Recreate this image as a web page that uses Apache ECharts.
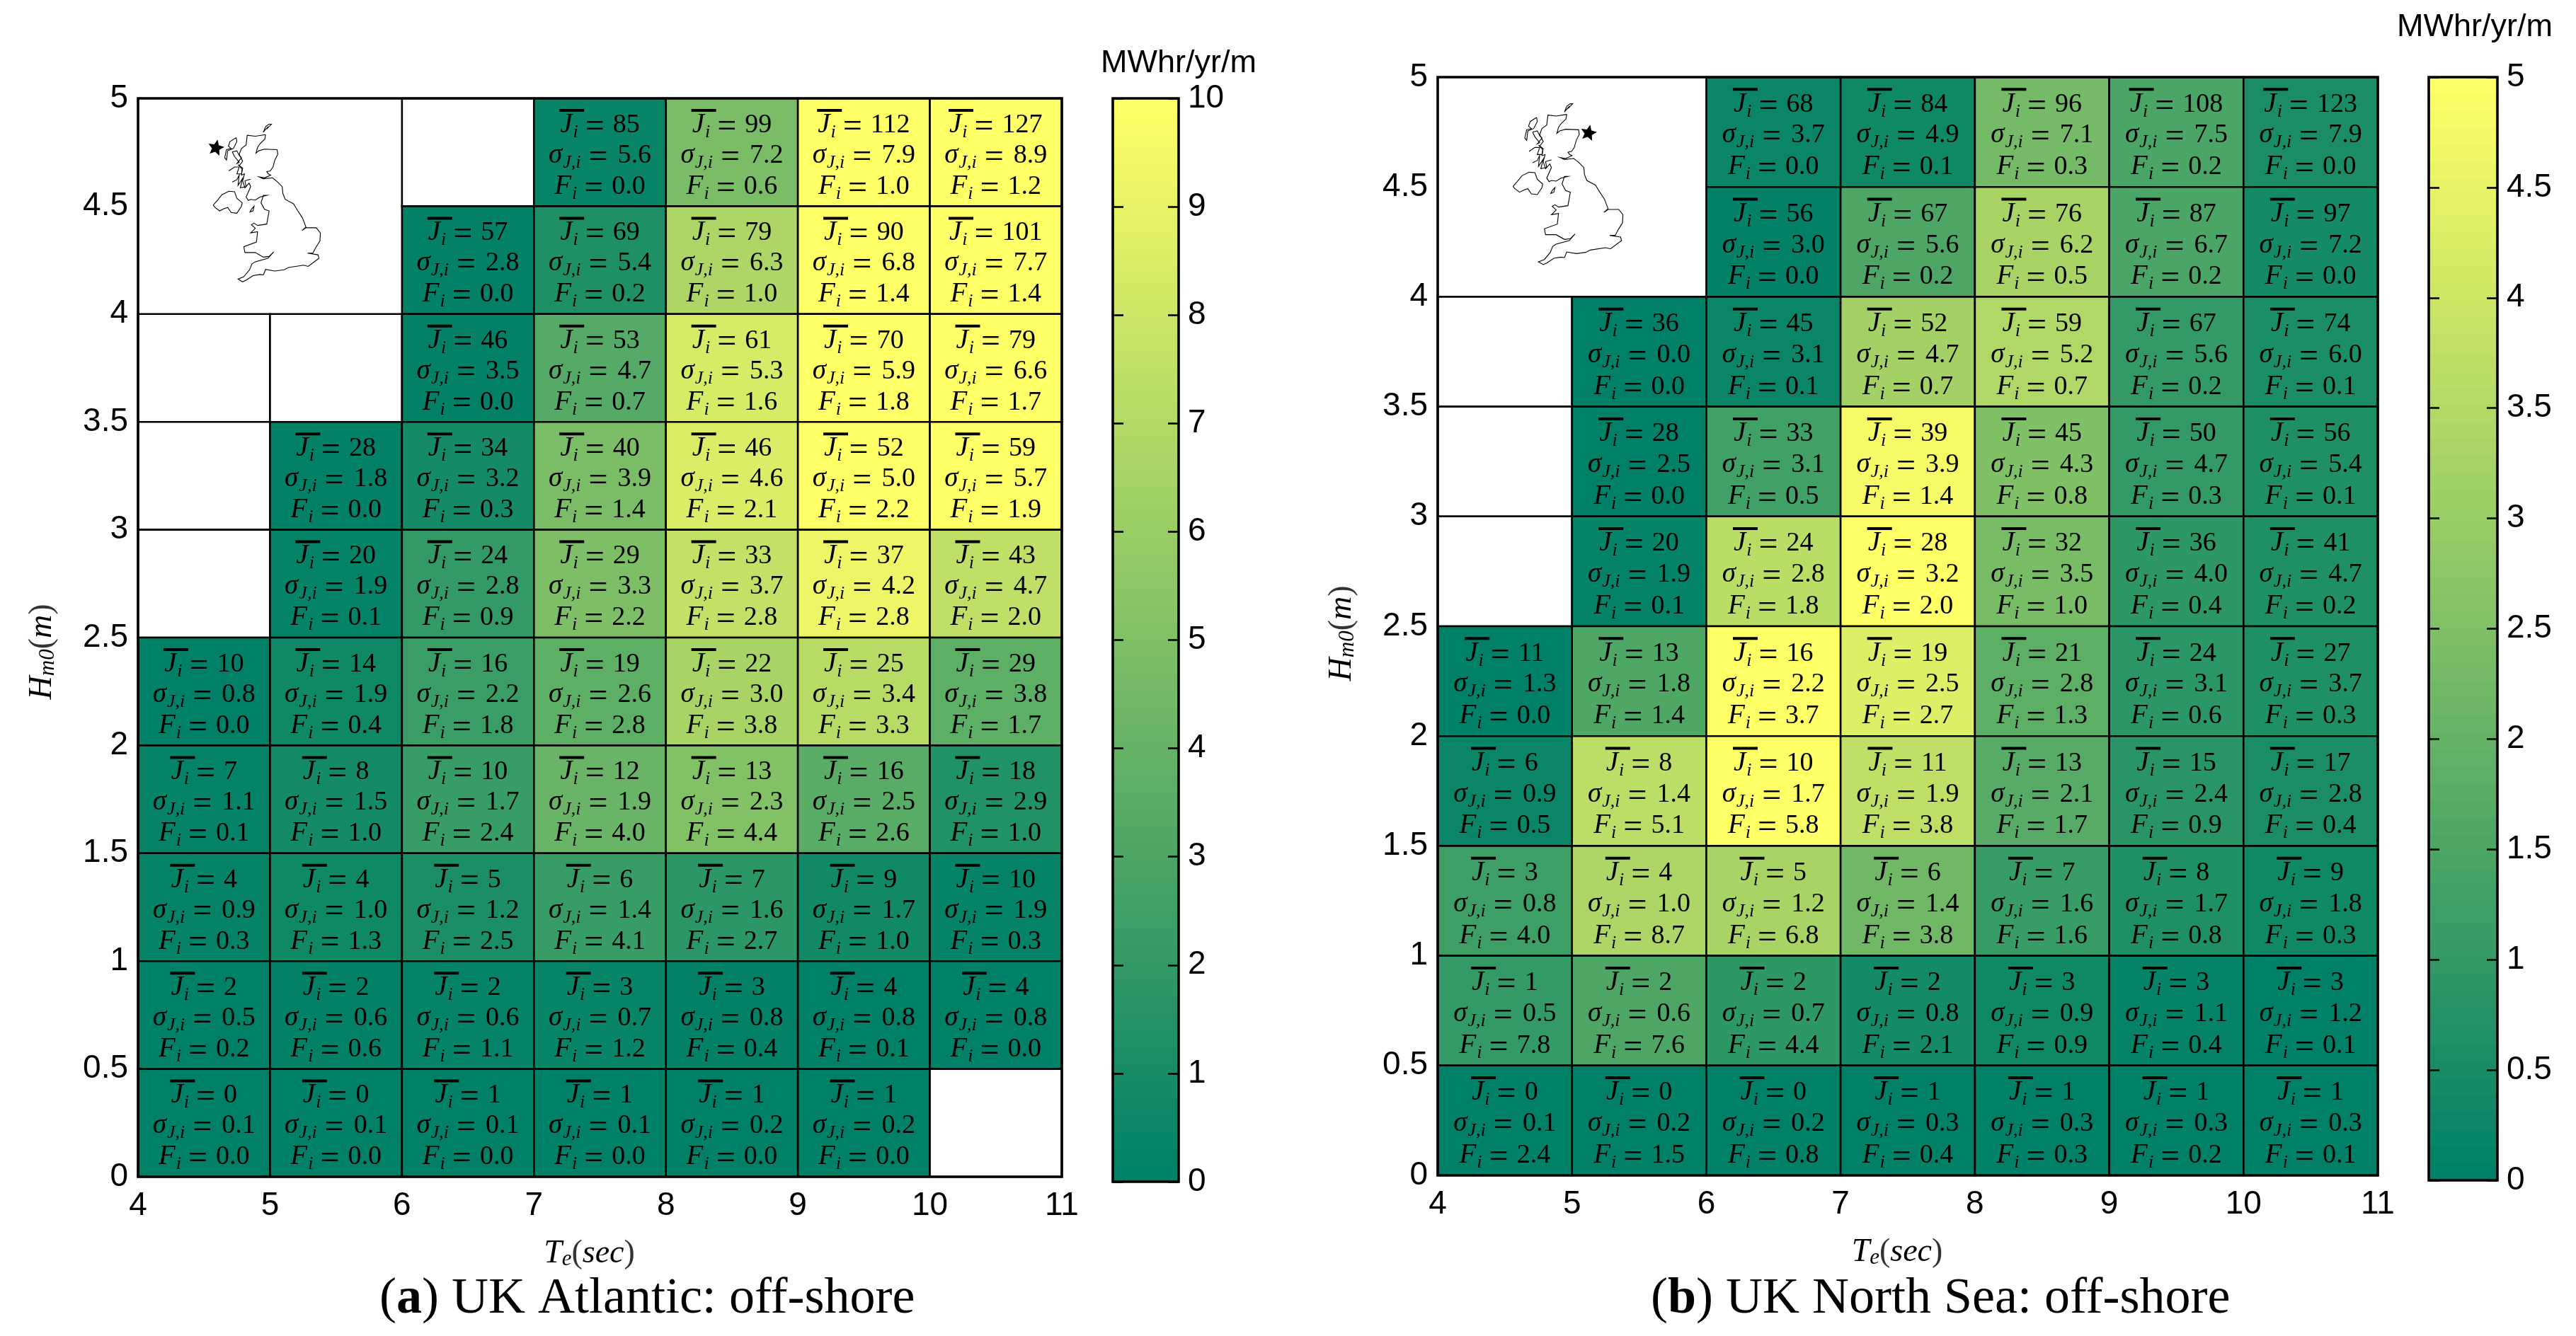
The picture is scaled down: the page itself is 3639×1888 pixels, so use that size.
<!DOCTYPE html>
<html><head><meta charset="utf-8">
<style>html,body{margin:0;padding:0;background:#fff}#c{width:3639px;height:1888px}</style>
<script src="https://cdn.jsdelivr.net/npm/echarts@6/dist/echarts.min.js"></script>
</head><body><div id="c"></div>
<script>
// x = Te bin lower edge, y = Hm0 bin lower edge. Rows run from the top row (4.5-5) to the bottom row (0-0.5).
var teBins = [4, 5, 6, 7, 8, 9, 10];
var hBins = [4.5, 4, 3.5, 3, 2.5, 2, 1.5, 1, 0.5, 0];
var xTickMin = 4, xTickMax = 11, yTickMin = 0, yTickMax = 5;

var atlanticJ = [
 [null,null,null,85,99,112,127],
 [null,null,57,69,79,90,101],
 [null,null,46,53,61,70,79],
 [null,28,34,40,46,52,59],
 [null,20,24,29,33,37,43],
 [10,14,16,19,22,25,29],
 [7,8,10,12,13,16,18],
 [4,4,5,6,7,9,10],
 [2,2,2,3,3,4,4],
 [0,0,1,1,1,1,null]];
var atlanticSigma = [
 [null,null,null,5.6,7.2,7.9,8.9],
 [null,null,2.8,5.4,6.3,6.8,7.7],
 [null,null,3.5,4.7,5.3,5.9,6.6],
 [null,1.8,3.2,3.9,4.6,5.0,5.7],
 [null,1.9,2.8,3.3,3.7,4.2,4.7],
 [0.8,1.9,2.2,2.6,3.0,3.4,3.8],
 [1.1,1.5,1.7,1.9,2.3,2.5,2.9],
 [0.9,1.0,1.2,1.4,1.6,1.7,1.9],
 [0.5,0.6,0.6,0.7,0.8,0.8,0.8],
 [0.1,0.1,0.1,0.1,0.2,0.2,null]];
var atlanticF = [
 [null,null,null,0.0,0.6,1.0,1.2],
 [null,null,0.0,0.2,1.0,1.4,1.4],
 [null,null,0.0,0.7,1.6,1.8,1.7],
 [null,0.0,0.3,1.4,2.1,2.2,1.9],
 [null,0.1,0.9,2.2,2.8,2.8,2.0],
 [0.0,0.4,1.8,2.8,3.8,3.3,1.7],
 [0.1,1.0,2.4,4.0,4.4,2.6,1.0],
 [0.3,1.3,2.5,4.1,2.7,1.0,0.3],
 [0.2,0.6,1.1,1.2,0.4,0.1,0.0],
 [0.0,0.0,0.0,0.0,0.0,0.0,null]];
// cell colour level on the 0-10 colour bar
var atlanticLevel = [
 [null,null,null,0.3,4.8,10,10],
 [null,null,0.1,1.2,6.8,10,10],
 [null,null,0.1,3.3,8.4,10,10],
 [null,0.1,0.8,4.8,8.6,10,10],
 [null,0.2,2,4.9,7.6,9.3,7.5],
 [0,0.6,2.3,3.7,6.6,7.2,3.7],
 [0.2,0.8,2.2,4.1,5.1,3.5,1.3],
 [0.2,0.6,1.1,2.2,1.7,0.7,0.2],
 [0,0.1,0.2,0.3,0.1,0,0],
 [0,0,0,0,0,0,null]];

var northSeaJ = [
 [null,null,68,84,96,108,123],
 [null,null,56,67,76,87,97],
 [null,36,45,52,59,67,74],
 [null,28,33,39,45,50,56],
 [null,20,24,28,32,36,41],
 [11,13,16,19,21,24,27],
 [6,8,10,11,13,15,17],
 [3,4,5,6,7,8,9],
 [1,2,2,2,3,3,3],
 [0,0,0,1,1,1,1]];
var northSeaSigma = [
 [null,null,3.7,4.9,7.1,7.5,7.9],
 [null,null,3.0,5.6,6.2,6.7,7.2],
 [null,0.0,3.1,4.7,5.2,5.6,6.0],
 [null,2.5,3.1,3.9,4.3,4.7,5.4],
 [null,1.9,2.8,3.2,3.5,4.0,4.7],
 [1.3,1.8,2.2,2.5,2.8,3.1,3.7],
 [0.9,1.4,1.7,1.9,2.1,2.4,2.8],
 [0.8,1.0,1.2,1.4,1.6,1.7,1.8],
 [0.5,0.6,0.7,0.8,0.9,1.1,1.2],
 [0.1,0.2,0.2,0.3,0.3,0.3,0.3]];
var northSeaF = [
 [null,null,0.0,0.1,0.3,0.2,0.0],
 [null,null,0.0,0.2,0.5,0.2,0.0],
 [null,0.0,0.1,0.7,0.7,0.2,0.1],
 [null,0.0,0.5,1.4,0.8,0.3,0.1],
 [null,0.1,1.8,2.0,1.0,0.4,0.2],
 [0.0,1.4,3.7,2.7,1.3,0.6,0.3],
 [0.5,5.1,5.8,3.8,1.7,0.9,0.4],
 [4.0,8.7,6.8,3.8,1.6,0.8,0.3],
 [7.8,7.6,4.4,2.1,0.9,0.4,0.1],
 [2.4,1.5,0.8,0.4,0.3,0.2,0.1]];
// cell colour level on the 0-5 colour bar
var northSeaLevel = [
 [null,null,0.2,0.3,2.3,1.45,0.5],
 [null,null,0.05,1.5,3.3,1.45,0.4],
 [null,0,0.2,3.2,3.45,1,0.55],
 [null,0,1.25,4.8,2.5,1,0.6],
 [null,0.1,3.65,5,2.35,0.9,0.6],
 [0,1.55,5,4.35,1.85,0.85,0.6],
 [0.2,3.7,5,3.75,1.7,0.8,0.5],
 [1.2,3.4,3.3,2.2,1.1,0.6,0.3],
 [1,1.5,0.9,0.4,0.3,0.1,0],
 [0,0,0,0,0,0,0]];

var atlanticBarTicks = {min:0, max:10, interval:1};
var northSeaBarTicks = {min:0, max:5, interval:0.5};
var barUnit = 'MWhr/yr/m';
var captionA = ['(', 'a', ')', ' UK Atlantic: off-shore'];
var captionB = ['(', 'b', ')', ' UK North Sea: off-shore'];

var LOW = '#008066', HIGH = '#ffff66';
var SERIF = '"Liberation Serif"', SANS = '"Liberation Sans"';

var measure = document.createElement('canvas').getContext('2d');
function textW(t, font){ measure.font = font; return measure.measureText(t).width; }
function tok(t, size, italic, base, x){
  return {type:'text', style:{text:t, x:x, y:base-0.27*size, fill:'#000', textAlign:'left', verticalAlign:'middle',
    font:(italic?'italic ':'')+size+'px '+SERIF}};
}
// lays a run of [text,size,italic,baselineDrop,gapBefore] tokens centred at cx
function line(cx, base, parts, out){
  var total = 0, i, p;
  for(i=0;i<parts.length;i++){ p=parts[i];
    p.w = textW(p[0], (p[2]?'italic ':'')+p[1]+'px '+SERIF); total += p.w + (p[4]||0); }
  var x = cx-total/2, startX = null;
  for(i=0;i<parts.length;i++){ p=parts[i]; x += (p[4]||0);
    if(startX===null) startX=x;
    out.push(tok(p[0],p[1],p[2],base+(p[3]||0),x)); x += p.w; }
  return startX;
}
function cellRenderer(maxLevel){
  return function(params, api){
    var x0=api.value(0), y0=api.value(1), lvl=api.value(2), J=api.value(3), s=api.value(4), F=api.value(5);
    var tl=api.coord([x0,y0+0.5]), br=api.coord([x0+1,y0]);
    var w=br[0]-tl[0], h=br[1]-tl[1], cx=tl[0]+w/2, top=tl[1];
    var empty=isNaN(J);
    var fill=empty?'#fff':echarts.color.lerp(Math.min(1,Math.max(0,lvl/maxLevel)),[LOW,HIGH]);
    var kids=[{type:'rect',shape:{x:tl[0],y:tl[1],width:w,height:h},style:{fill:fill,stroke:'#000',lineWidth:2.6}}];
    if(!empty){
      var k=h/152.4;
      var jx=line(cx, top+48*k, [['J',39,true],['i',26,true,7,1],['=',48,false,6,10],[String(J),38,false,0,12]], kids);
      kids.push({type:'rect',shape:{x:jx-1,y:top+15*k,width:35,height:4},style:{fill:'#000'}});
      line(cx, top+91*k, [['\u03c3',39,true],['J,i',26,true,7,1],['=',48,false,6,11],[s.toFixed(1),38,false,0,14]], kids);
      line(cx, top+135*k, [['F',39,true],['i',26,true,7,1],['=',48,false,6,10],[F.toFixed(1),38,false,0,12]], kids);
    }
    return {type:'group',children:kids};
  };
}
function frameRenderer(params, api){
  var a=api.coord([api.value(0),api.value(3)]), b=api.coord([api.value(2),api.value(1)]);
  return {type:'rect',shape:{x:a[0],y:a[1],width:b[0]-a[0],height:b[1]-a[1]},style:{fill:'none',stroke:'#000',lineWidth:3.6}};
}
function colourBarRenderer(params, api){
  var a=api.coord([0,api.value(1)]), b=api.coord([1,api.value(0)]);
  var stops=[],n=64;
  for(var i=0;i<n;i++){
    var c=echarts.color.lerp((n-1-i)/(n-1),[LOW,HIGH]);
    stops.push({offset:i/n,color:c},{offset:(i+1)/n,color:c});
  }
  return {type:'rect',shape:{x:a[0],y:a[1],width:b[0]-a[0],height:b[1]-a[1]},
     style:{fill:new echarts.graphic.LinearGradient(0,0,0,1,stops),stroke:'#000',lineWidth:3.6}};
}
function cellData(J,S,F,L){
  var d=[];
  hBins.forEach(function(h,r){ teBins.forEach(function(t,c){
    if(t<6 && h>=4) return; // inset area holds the map
    d.push([t,h,L[r][c]===null?NaN:L[r][c],J[r][c]===null?NaN:J[r][c],S[r][c]===null?NaN:S[r][c],F[r][c]===null?NaN:F[r][c]]);
  });});
  return d;
}

var tickFont={fontFamily:SANS,fontSize:46,color:'#000'};
var nameRich={
  v:{fontFamily:SERIF,fontStyle:'italic',fontSize:46,color:'#000'},
  p:{fontFamily:SERIF,fontSize:46,color:'#333'},
  s:{fontFamily:SERIF,fontStyle:'italic',fontSize:31,color:'#000',verticalAlign:'bottom',padding:[14,0,0,0]}
};
function plotAxes(gridIndex, nameGapY, yPad){
  return {
    x:{type:'value',gridIndex:gridIndex,min:xTickMin,max:xTickMax,interval:1,
       axisLine:{show:false},axisTick:{show:false},splitLine:{show:false},
       axisLabel:Object.assign({margin:18,hideOverlap:false,showMinLabel:true,showMaxLabel:true},tickFont),
       name:'{v|T}{s|e}{p|(}{v|sec}{p|)}',nameLocation:'middle',nameGap:86,nameTextStyle:{rich:nameRich,padding:[0,30,0,0]}},
    y:{type:'value',gridIndex:gridIndex,min:yTickMin,max:yTickMax,interval:0.5,
       axisLine:{show:false},axisTick:{show:false},splitLine:{show:false},
       axisLabel:Object.assign({margin:14,showMinLabel:true,showMaxLabel:true},tickFont),
       name:'{v|H}{s|m0}{p|(}{v|m}{p|)}',nameLocation:'middle',nameGap:nameGapY,nameRotate:90,nameTextStyle:{rich:nameRich,padding:yPad}}
  };
}
function barAxes(gridIndex,t,namePad){
  var tick={show:true,inside:true,length:15,lineStyle:{color:'#000',width:2.6}};
  return {
    x:{type:'value',gridIndex:gridIndex,min:0,max:1,show:false},
    y:{type:'value',gridIndex:gridIndex,position:'right',min:t.min,max:t.max,interval:t.interval,z:6,
       axisLine:{show:false,onZero:false},axisTick:tick,splitLine:{show:false},
       axisLabel:Object.assign({margin:13,showMinLabel:true,showMaxLabel:true},tickFont),
       name:barUnit,nameLocation:'end',nameGap:namePad.gap,
       nameTextStyle:{fontFamily:SANS,fontSize:45,color:'#000',align:'center',padding:namePad.padding}},
    y2:{type:'value',gridIndex:gridIndex,position:'left',min:t.min,max:t.max,interval:t.interval,z:6,
       axisLine:{show:false,onZero:false},axisTick:tick,axisLabel:{show:false},splitLine:{show:false}}
  };
}
var pa=plotAxes(0,112,[0,40,0,0]), pb=plotAxes(1,112,[0,20,0,0]);
var ba=barAxes(2,atlanticBarTicks,{gap:27,padding:[0,0,0,0]});
var bb=barAxes(3,northSeaBarTicks,{gap:48,padding:[0,64,0,0]});

// Inset outline of Great Britain and Ireland (tile-local coordinates, 3 units = 1 px)
var britain=[[250,65],[246,85],[225,105],[215,120],[208,145],[220,135],[245,128],[300,130],[303,150],[290,175],[282,205],[270,222],[255,225],[262,235],[272,240],[245,252],[222,248],[240,256],[280,252],[300,268],[322,290],[325,320],[335,345],[372,365],[390,395],[410,425],[425,465],[408,480],[425,468],[470,468],[488,490],[486,525],[470,550],[455,578],[432,578],[478,585],[482,600],[435,635],[415,630],[350,640],[330,650],[290,655],[250,648],[240,672],[225,670],[195,675],[165,695],[150,702],[130,690],[155,680],[180,650],[190,625],[205,615],[260,600],[285,572],[265,592],[240,595],[205,575],[160,575],[155,550],[210,530],[215,485],[185,490],[205,470],[188,455],[200,448],[215,458],[255,452],[265,395],[245,388],[230,360],[240,328],[255,328],[225,335],[205,348],[185,345],[175,350],[165,335],[185,290],[178,275],[160,295],[150,265],[158,235],[145,240],[148,215],[135,200],[150,180],[135,150],[145,125],[165,110],[170,68],[205,72],[250,65]];
var ireland=[[22,370],[40,350],[60,325],[90,310],[115,312],[125,340],[148,360],[145,375],[125,405],[100,402],[85,380],[70,385],[50,395],[30,380],[22,370]];
var man=[[190,385],[182,400],[195,395],[200,375],[190,385]];
var lewis=[[122,78],[95,95],[88,115],[100,125],[80,130],[72,165],[80,175],[85,135],[110,125],[125,95],[122,78]];
var skye=[[105,140],[125,135],[135,155],[145,165],[125,190],[135,185],[115,160],[105,140]];
var mull=[[90,222],[115,205],[135,205],[125,235],[145,235],[150,210],[130,195]];
var argyll=[[105,270],[125,260],[135,240],[130,285],[150,255],[140,295],[165,290],[160,265],[185,258]];
var orkney=[[240,55],[250,30],[265,20],[275,20],[255,40],[262,30],[245,48],[240,55]];
var ukOutlines=[britain,ireland,man,lewis,skye,mull,argyll,orkney];

function mapGraphic(ox,oy,sx,sy,starX,starY){
  var kids=ukOutlines.map(function(l){
    return {type:'polyline',shape:{points:l.map(function(p){return [ox+sx*p[0]/3,oy+sy*p[1]/3];})},
      style:{stroke:'#000',lineWidth:1.1,fill:null}};
  });
  var star=[],R=12,r=5.5;
  for(var i=0;i<10;i++){var a=-Math.PI/2+i*Math.PI/5+0.2,q=i%2?r:R;star.push([starX+q*Math.cos(a),starY+q*Math.sin(a)]);}
  kids.push({type:'polygon',shape:{points:star},style:{fill:'#000'}});
  return kids;
}
function caption(c){
  return '{n|'+c[0]+'}{b|'+c[1]+'}{n|'+c[2]+'}{n|'+c[3]+'}';
}
var capRich={
  b:{fontFamily:SERIF,fontWeight:'bold',fontSize:72,color:'#000'},
  n:{fontFamily:SERIF,fontWeight:'normal',fontSize:72,color:'#000'}
};
var option={
  animation:false,backgroundColor:'#fff',
  title:[
   {left:531,top:1795,text:caption(captionA),textStyle:{fontWeight:'normal',rich:capRich}},
   {left:2327,top:1795,text:caption(captionB),textStyle:{fontWeight:'normal',rich:capRich}}
  ],
  grid:[
   {left:195,top:139,width:1305,height:1524},
   {left:2031,top:109,width:1328,height:1552},
   {left:1572,top:139,width:93,height:1531},
   {left:3431,top:109,width:97,height:1559}
  ],
  xAxis:[pa.x,pb.x,ba.x,bb.x],
  yAxis:[pa.y,pb.y,ba.y,bb.y,ba.y2,bb.y2],
  series:[
   {type:'custom',name:'UK Atlantic',xAxisIndex:0,yAxisIndex:0,z:2,renderItem:cellRenderer(atlanticBarTicks.max),data:cellData(atlanticJ,atlanticSigma,atlanticF,atlanticLevel),encode:{x:0,y:1}},
   {type:'custom',name:'UK North Sea',xAxisIndex:1,yAxisIndex:1,z:2,renderItem:cellRenderer(northSeaBarTicks.max),data:cellData(northSeaJ,northSeaSigma,northSeaF,northSeaLevel),encode:{x:0,y:1}},
   {type:'custom',xAxisIndex:0,yAxisIndex:0,z:3,renderItem:frameRenderer,data:[[xTickMin,yTickMin,xTickMax,yTickMax]],encode:{x:[0,2],y:[1,3]}},
   {type:'custom',xAxisIndex:1,yAxisIndex:1,z:3,renderItem:frameRenderer,data:[[xTickMin,yTickMin,xTickMax,yTickMax]],encode:{x:[0,2],y:[1,3]}},
   {type:'custom',xAxisIndex:2,yAxisIndex:2,z:2,renderItem:colourBarRenderer,data:[[atlanticBarTicks.min,atlanticBarTicks.max]],encode:{y:[0,1]}},
   {type:'custom',xAxisIndex:3,yAxisIndex:3,z:2,renderItem:colourBarRenderer,data:[[northSeaBarTicks.min,northSeaBarTicks.max]],encode:{y:[0,1]}}
  ],
  graphic:{elements:[
    {type:'group',z:5,children:mapGraphic(294,169,0.975,0.98,305,209)},
    {type:'group',z:5,children:mapGraphic(2130,140,1,1,2244,188)}
  ]}
};
echarts.init(document.getElementById('c')).setOption(option);
</script></body></html>
